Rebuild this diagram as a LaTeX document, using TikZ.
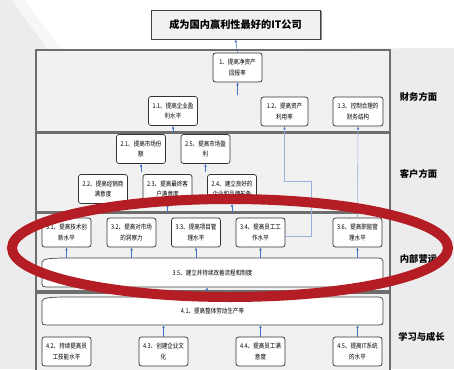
\documentclass[tikz,border=0pt]{standalone}
\usepackage{fontspec}
\setmainfont{Noto Sans CJK SC}
\newfontfamily\nodefont[FakeStretch=0.84]{Noto Sans CJK SC}
\usetikzlibrary{arrows.meta,calc}
\definecolor{bg}{HTML}{ECECEE}
\definecolor{panel}{HTML}{F1F1F1}
\definecolor{pborder}{HTML}{6E6E6E}
\definecolor{arr}{HTML}{4472C4}
\definecolor{larr}{HTML}{9AB3DE}
\definecolor{ring}{HTML}{B51D24}
\begin{document}
\begin{tikzpicture}[x=1pt,y=-1pt,
  box/.style={draw=black!80, fill=white, rounded corners=2.5pt, line width=0.7pt,
    minimum width=49pt, minimum height=29pt, inner sep=0pt, align=center,
    font=\nodefont\fontsize{6.6}{10.3}\selectfont},
  wide/.style={draw=none, minimum width=341pt, minimum height=29pt, inner sep=0pt,
    font=\nodefont\fontsize{6.6}{10.3}\selectfont},
  wideshape/.style={draw=black!75, fill=white, line width=0.7pt},
  panelbox/.style={draw=pborder, fill=panel, line width=1.1pt},
  lab/.style={font=\fontsize{9.3}{11}\selectfont\bfseries},
  con/.style={draw=arr, line width=0.5pt, -{Latex[length=3pt,width=2.6pt]}},
  lcon/.style={draw=larr, line width=0.6pt, -{Latex[length=3pt,width=2.6pt,color=arr]}}
]
\useasboundingbox (0,0) rectangle (454,369);
\clip (0,0) rectangle (454,369);
% background
\fill[bg] (0,0) rectangle (454,369);
\fill[white] (24,0) -- (454,0) -- (454,48) -- (62,50) -- cycle;
\fill[white!60!bg] (12,0) -- (24,0) -- (62,50) -- (48,50) -- cycle;

% panels
\draw[panelbox] (36,50) rectangle (390,132);
\draw[panelbox] (36,133.5) rectangle (390,211.5);
\draw[panelbox] (36,213) rectangle (390,291);
\draw[panelbox] (36,293) rectangle (390,375);

% title
\fill[black!45] (152.5,11.5) rectangle (321.5,40.5);
\node[draw=black!75, fill=panel, line width=0.8pt, minimum width=169pt, minimum height=29pt,
  inner sep=0pt, font=\fontsize{10.2}{12}\selectfont\bfseries] (title) at (235.5,24.5) {成为国内赢利性最好的IT公司};

% financial
\node[box] (n1) at (237.5,67.5) {1、提高净资产\\回报率};
\node[box] (n11) at (173,111) {1.1、提高企业盈\\利水平};
\node[box, minimum width=47pt] (n12) at (284.5,111.5) {1.2、提高资产\\利用率};
\node[box, minimum width=50pt] (n13) at (358,111.5) {1.3、控制合理的\\财务结构};

% customer
\node[box] (n21) at (141,149) {2.1、提高市场份\\额};
\node[box] (n25) at (205.5,149) {2.5、提高市场盈\\利};
\node[box] (n22) at (103,189) {2.2、提高经销商\\满意度};
\node[box] (n23) at (167.5,189) {2.3、提高最终客\\户满意度};
\node[box] (n24) at (232,189) {2.4、建立良好的\\企业和品牌形象};

% internal
\node[box] (n31) at (66.5,232.5) {3.1、提高技术创\\新水平};
\node[box] (n32) at (131.5,232.5) {3.2、提高对市场\\的洞察力};
\node[box] (n33) at (196,232.5) {3.3、提高项目管\\理水平};
\node[box] (n34) at (260.5,232.5) {3.4、提高员工工\\作水平};
\node[box] (n36) at (357.5,232.5) {3.6、提高职能管\\理水平};
\draw[wideshape] (42,284) -- (42,262.5) .. controls (42,258.5) and (50,258) .. (70,258)
  -- (378,258) .. controls (382,258) and (383,259.5) .. (383,263) -- (383,284)
  .. controls (383,286.5) and (382,287) .. (379,287) -- (46,287)
  .. controls (43,287) and (42,286) .. (42,284) -- cycle;
\node[wide] (n35) at (212.5,272.5) {3.5、建立并持续改善流程和制度};

% learning
\draw[wideshape] (42,322) -- (42,301.5) .. controls (42,297.5) and (50,297) .. (70,297)
  -- (378,297) .. controls (382,297) and (383,298.5) .. (383,302) -- (383,322)
  .. controls (383,324.5) and (382,325) .. (379,325) -- (46,325)
  .. controls (43,325) and (42,324) .. (42,322) -- cycle;
\node[wide, minimum height=28pt] (n41) at (212.5,311) {4.1、提高整体劳动生产率};
\node[box] (n42) at (66.5,351.5) {4.2、持续提高员\\工技能水平};
\node[box] (n43) at (163.5,351.5) {4.3、创建企业文\\化};
\node[box] (n44) at (260.5,351.5) {4.4、提高员工满\\意度};
\node[box] (n45) at (357.5,351.5) {4.5、提高IT系统\\的水平};

% labels
\node[lab] (l1) at (418.5,97) {财务方面};
\node[lab] (l2) at (418.5,174) {客户方面};
\node[lab] (l3) at (418.5,259) {内部营运};
\node[lab] (l4) at (421.5,337) {学习与成长};

% connectors
\coordinate (s1) at (237.5,95);
\coordinate (s11) at (173,132.5);
\coordinate (s21) at (141,172);
\coordinate (s25) at (205.5,172);
\coordinate (s23) at (167.5,212.5);
\coordinate (s24) at (232,212.5);
\coordinate (k2) at (311,181);
\draw[con] (n1.north) -- (title.south);
\draw[con] (s1) -- (n1.south);
\draw[con] (s11) -- (n11.south);
\draw[con] (s21) -- (n21.south);
\draw[con] (s25) -- (n25.south);
\draw[con] (s23) -- (n23.south);
\draw[con] (s24) -- (n24.south);
\draw[lcon] ([yshift=-3.5pt]n34.east) -| (k2) -| (n12.south);
\draw[lcon] (n36.north) -- (n13.south);
\foreach \n in {n31,n32,n33,n34,n36}{
  \draw[con] (n35.north -| \n.south) -- (\n.south);
}
\draw[con] ($(n41.north)+(-5.5,0)$) -- ($(n35.south)+(-5.5,0)$);
\foreach \n in {n43,n44,n45}{
  \draw[con] (\n.north) -- (n41.south -| \n.north);
}

% red ring
\draw[ring, line width=10pt] (230,248) ellipse [x radius=218, y radius=49];
\end{tikzpicture}
\end{document}
